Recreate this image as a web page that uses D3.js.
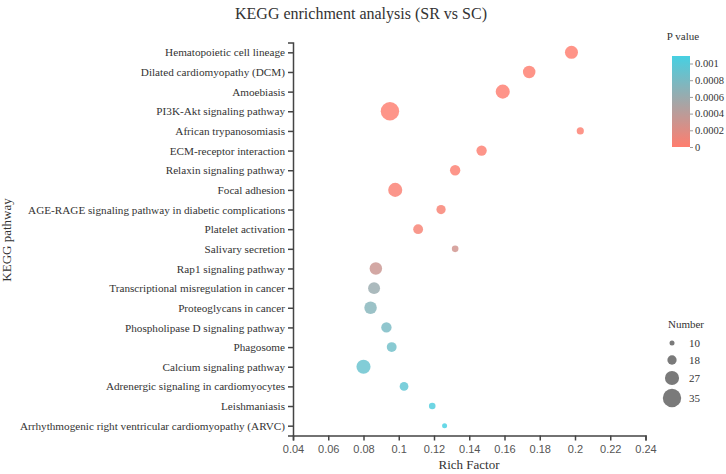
<!DOCTYPE html>
<html>
<head>
<meta charset="utf-8">
<script src="https://cdn.jsdelivr.net/npm/d3@7"></script>
<style>
  body { margin: 0; background: #fff; }
  svg text { font-family: "Liberation Serif", "DejaVu Serif", serif; fill: #333; }
  .xaxis text { font-family: "Liberation Sans", "DejaVu Sans", sans-serif; fill: #555; }
</style>
</head>
<body>
<div id="chart"></div>
<script>
// pathways, top to bottom
var pathways = [
  "Hematopoietic cell lineage",
  "Dilated cardiomyopathy (DCM)",
  "Amoebiasis",
  "PI3K-Akt signaling pathway",
  "African trypanosomiasis",
  "ECM-receptor interaction",
  "Relaxin signaling pathway",
  "Focal adhesion",
  "AGE-RAGE signaling pathway in diabetic complications",
  "Platelet activation",
  "Salivary secretion",
  "Rap1 signaling pathway",
  "Transcriptional misregulation in cancer",
  "Proteoglycans in cancer",
  "Phospholipase D signaling pathway",
  "Phagosome",
  "Calcium signaling pathway",
  "Adrenergic signaling in cardiomyocytes",
  "Leishmaniasis",
  "Arrhythmogenic right ventricular cardiomyopathy (ARVC)"
];
var richFactor = [0.198, 0.174, 0.159, 0.095, 0.203, 0.147, 0.132, 0.098, 0.124, 0.111,
                  0.132, 0.087, 0.086, 0.084, 0.093, 0.096, 0.080, 0.103, 0.119, 0.126];
var geneNumber = [25, 24, 27, 35, 14, 20, 20, 27, 18, 19,
                  13, 24, 23, 24, 20, 19, 27, 17, 13, 10];
var pValue = [0.000002, 0.000004, 0.000006, 0.000008, 0.00001, 0.000015, 0.00002, 0.00003, 0.00004, 0.00005,
              0.00028, 0.00032, 0.0006, 0.00072, 0.0008, 0.00085, 0.0009, 0.00095, 0.00104, 0.00109];
var xTicks = [0.04, 0.06, 0.08, 0.1, 0.12, 0.14, 0.16, 0.18, 0.2, 0.22, 0.24];
var pTicks = [0, 0.0002, 0.0004, 0.0006, 0.0008, 0.001];
var sizeLegend = [10, 18, 27, 35];

var width = 726, height = 474;
var svg = d3.select("#chart").append("svg")
  .attr("width", width)
  .attr("height", height);

var x = d3.scaleLinear().domain([0.04, 0.24]).range([293, 645.5]);
var y = d3.scalePoint().domain(pathways).range([42.5, 435.5]).padding(0.5);
var r = d3.scaleLinear().domain([10, 35]).range([2.5, 9.2]);
var pMax = 0.00109;
var color = d3.scaleLinear().domain([0, pMax]).range(["#ff7d6e", "#46d0e2"]).interpolate(d3.interpolateRgb);

var data = pathways.map(function(d, i) {
  return { name: d, rf: richFactor[i], n: geneNumber[i], p: pValue[i] };
});

// title
svg.append("text")
  .attr("x", 361).attr("y", 19)
  .attr("text-anchor", "middle")
  .style("font-size", "16px")
  .text("KEGG enrichment analysis (SR vs SC)");

// axes
var xAxis = svg.append("g")
  .attr("class", "xaxis")
  .attr("transform", "translate(0,435.5)")
  .call(d3.axisBottom(x).tickValues(xTicks).tickFormat(function(d) { return String(+d.toFixed(2)); }).tickSize(5));
xAxis.selectAll("text").style("font-size", "11px").attr("dy", "0.9em");

var yAxis = svg.append("g")
  .attr("class", "yaxis")
  .attr("transform", "translate(293,0)")
  .call(d3.axisLeft(y).tickSize(5));
yAxis.selectAll("text").style("font-size", "11.2px");

svg.selectAll(".xaxis path, .xaxis line, .yaxis path, .yaxis line")
  .attr("stroke", "#444").attr("stroke-width", 1.5);

svg.append("text")
  .attr("x", 469).attr("y", 469)
  .attr("text-anchor", "middle")
  .style("font-size", "13px")
  .text("Rich Factor");

svg.append("text")
  .attr("transform", "translate(11,240) rotate(-90)")
  .attr("text-anchor", "middle")
  .style("font-size", "13px")
  .text("KEGG pathway");

// points
svg.append("g").selectAll("circle")
  .data(data)
  .enter()
  .append("circle")
  .attr("cx", function(d) { return x(d.rf); })
  .attr("cy", function(d) { return y(d.name); })
  .attr("r", function(d) { return r(d.n); })
  .attr("fill", function(d) { return color(d.p); })
  .attr("fill-opacity", 0.82);

// p value legend
var defs = svg.append("defs");
var grad = defs.append("linearGradient")
  .attr("id", "pgrad")
  .attr("x1", "0").attr("y1", "1").attr("x2", "0").attr("y2", "0");
grad.append("stop").attr("offset", "0%").attr("stop-color", color(0));
grad.append("stop").attr("offset", "100%").attr("stop-color", color(pMax));

var py = d3.scaleLinear().domain([0, pMax]).range([147, 56]);
svg.append("text")
  .attr("x", 683).attr("y", 40)
  .attr("text-anchor", "middle")
  .style("font-size", "11px")
  .text("P value");
svg.append("rect")
  .attr("x", 672).attr("y", 56)
  .attr("width", 18).attr("height", 91)
  .attr("fill", "url(#pgrad)");
var pAxis = svg.append("g")
  .attr("class", "paxis")
  .attr("transform", "translate(690,0)")
  .call(d3.axisRight(py).tickValues(pTicks).tickFormat(function(d) { return String(+d.toFixed(4)); }).tickSize(3).tickSizeOuter(0));
pAxis.select(".domain").remove();
pAxis.selectAll("line").attr("stroke", "#999");
pAxis.selectAll("text").style("font-size", "10.5px").attr("x", 5);

// size legend
svg.append("text")
  .attr("x", 686).attr("y", 328)
  .attr("text-anchor", "middle")
  .style("font-size", "11px")
  .text("Number");
var legendY = [343, 360, 378, 398];
var sl = svg.append("g").selectAll("g")
  .data(sizeLegend)
  .enter()
  .append("g")
  .attr("transform", function(d, i) { return "translate(672," + legendY[i] + ")"; });
sl.append("circle")
  .attr("r", function(d) { return r(d); })
  .attr("fill", "#7a7a7a");
sl.append("text")
  .attr("x", 17).attr("dy", "0.35em")
  .style("font-size", "11px")
  .text(function(d) { return d; });
</script>
</body>
</html>
